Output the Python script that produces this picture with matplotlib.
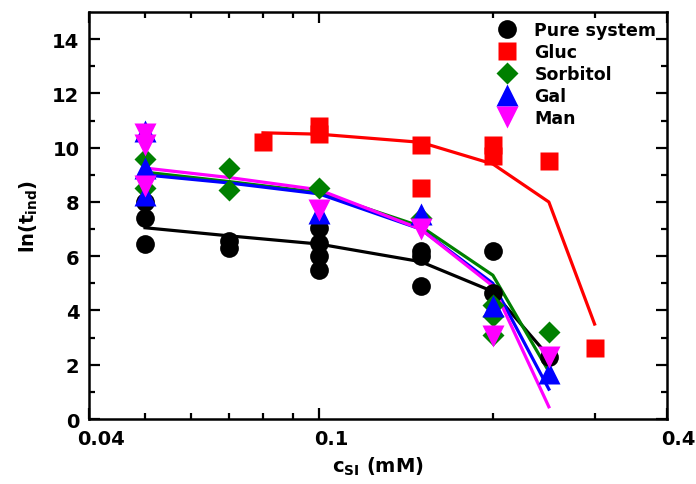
"""ln(t_ind) vs c_SI for pure system and sugar additives."""
import matplotlib
matplotlib.use('Agg')
import matplotlib.pyplot as plt
from matplotlib.ticker import FixedLocator, NullFormatter
from matplotlib.transforms import ScaledTranslation

plt.rcParams['font.family'] = ['DejaVu Sans']
plt.rcParams['font.weight'] = 'bold'
plt.rcParams['mathtext.default'] = 'bf'

# --- scatter data (c_SI in mM, ln(t_ind)) ---
pure_x = [0.05, 0.05, 0.05, 0.07, 0.07, 0.1, 0.1, 0.1, 0.1, 0.15, 0.15, 0.15, 0.2, 0.2, 0.25]
pure_y = [8.0, 7.4, 6.45, 6.55, 6.3, 7.05, 6.5, 6.0, 5.5, 6.2, 6.0, 4.9, 6.2, 4.65, 2.3]

gluc_x = [0.08, 0.1, 0.1, 0.15, 0.15, 0.2, 0.2, 0.25, 0.3]
gluc_y = [10.2, 10.8, 10.5, 10.1, 8.5, 10.1, 9.7, 9.5, 2.6]

sorb_x = [0.05, 0.05, 0.07, 0.07, 0.1, 0.15, 0.2, 0.2, 0.2, 0.25]
sorb_y = [9.6, 8.5, 9.25, 8.45, 8.5, 7.4, 4.2, 3.8, 3.1, 3.2]

gal_x = [0.05, 0.05, 0.05, 0.1, 0.15, 0.2, 0.25]
gal_y = [10.6, 9.25, 8.25, 7.6, 7.55, 4.15, 1.7]

man_x = [0.05, 0.05, 0.05, 0.1, 0.15, 0.2, 0.25]
man_y = [10.5, 10.1, 8.6, 7.7, 7.0, 3.05, 2.3]

# --- model curves ---
fit_x = [0.05, 0.07, 0.1, 0.15, 0.2, 0.25]
pure_fit = [7.05, 6.75, 6.45, 5.8, 4.7, 2.3]
sorb_fit = [9.1, 8.75, 8.35, 7.1, 5.3, 1.75]
gal_fit = [9.0, 8.7, 8.3, 7.0, 5.0, 1.1]
man_fit = [9.25, 8.9, 8.45, 7.0, 4.9, 0.45]

gluc_fit_x = [0.08, 0.1, 0.15, 0.2, 0.25, 0.3]
gluc_fit = [10.55, 10.5, 10.2, 9.4, 8.0, 3.5]

fig = plt.figure(figsize=(6.96, 4.85), dpi=100)
ax = fig.add_axes([0.128, 0.134, 0.83, 0.839])

LW = 2.3
ax.plot(fit_x, pure_fit, color='black', lw=LW, zorder=2)
ax.plot(gluc_fit_x, gluc_fit, color='red', lw=LW, zorder=2)
ax.plot(fit_x, sorb_fit, color='green', lw=LW, zorder=2)
ax.plot(fit_x, gal_fit, color='blue', lw=LW, zorder=2)
ax.plot(fit_x, man_fit, color='magenta', lw=LW, zorder=2)

ax.plot(pure_x, pure_y, 'o', color='black', ms=13.5, mec='none', label='Pure system', zorder=3)
ax.plot(gluc_x, gluc_y, 's', color='red', ms=12.5, mec='none', label='Gluc', zorder=3)
ax.plot(sorb_x, sorb_y, 'D', color='green', ms=11, mec='none', label='Sorbitol', zorder=3)
ax.plot(gal_x, gal_y, '^', color='blue', ms=15.5, mec='none', label='Gal', zorder=3)
ax.plot(man_x, man_y, 'v', color='magenta', ms=15.5, mec='none', label='Man', zorder=3)

ax.set_xscale('log')
ax.set_xlim(0.04, 0.4)
ax.set_ylim(0, 15)
ax.xaxis.set_major_locator(FixedLocator([0.04, 0.1, 0.4]))
ax.xaxis.set_minor_locator(FixedLocator([0.05, 0.06, 0.07, 0.08, 0.09, 0.2, 0.3]))
ax.xaxis.set_minor_formatter(NullFormatter())
ax.set_xticklabels(['0.04', '0.1', '0.4'])
ax.set_yticks([0, 2, 4, 6, 8, 10, 12, 14])
ax.set_yticks(range(0, 15), minor=True)

ax.tick_params(which='both', direction='in', top=True, right=True, width=1.6,
               labelsize=14, pad=7)
ax.tick_params(which='major', length=8)
ax.tick_params(which='minor', length=4.5)
for sp in ax.spines.values():
    sp.set_linewidth(1.8)

# x tick labels sit a little right of their ticks in the original
shift = ScaledTranslation(0.12, 0, fig.dpi_scale_trans)
for lab in ax.get_xticklabels():
    lab.set_transform(lab.get_transform() + shift)

ax.set_xlabel('c$_{SI}$ (mM)', fontsize=14, fontweight='bold', labelpad=5)
ax.set_ylabel('ln(t$_{ind}$)', fontsize=14, fontweight='bold', labelpad=9)

ax.legend(loc='upper right', bbox_to_anchor=(1.0, 1.003), frameon=False, fontsize=12.5,
          handlelength=1.2, handletextpad=1.0, labelspacing=0.23, borderaxespad=0.2)

fig.savefig('out.png', dpi=100)
